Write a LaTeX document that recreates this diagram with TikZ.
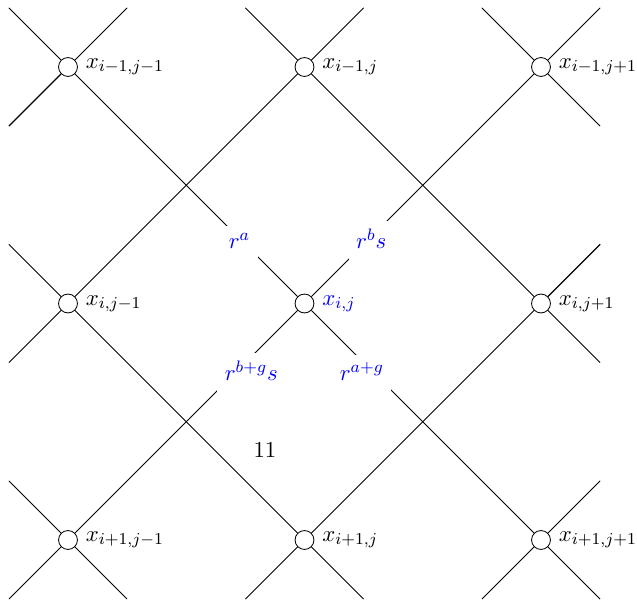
\documentclass[11pt,tikz,border=0pt]{standalone}
\usepackage{amsmath, amssymb}
\usepackage{tikz}
\usetikzlibrary{positioning, calc}

\begin{document}
\begin{tikzpicture}[
		site/.style={circle, draw=black, fill=white, minimum size=0.32cm, inner sep=0pt},
		lnk/.style={color=black},
		wgt/.style={fill=white, text=blue, inner sep=3.6pt, text depth=2pt, anchor=base},
		edgeb/.style={semithick}
		]
		\useasboundingbox (-1.15,1.133) rectangle (9.624,-9.015);
		
		% Sommets
		\node[site, label=right:{$x_{i-1,j-1}$}] (a1) at (0, 0)  {};
		\node[site, label=right:{$x_{i-1,j}$}]   (a2) at (4, 0)  {};
		\node[site, label=right:{$x_{i-1,j+1}$}] (a3) at (8, 0)  {};
		\node[site, label=right:{$x_{i,j-1}$}]   (b1) at (0, -4) {};
		\node[site, label=right:{\textcolor{blue}{$x_{i,j}$}}] (b2) at (4, -4) {};
		\node[site, label=right:{$x_{i,j+1}$}]   (b3) at (8, -4) {};
		\node[site, label=right:{$x_{i+1,j-1}$}] (c1) at (0, -8) {};
		\node[site, label=right:{$x_{i+1,j}$}]   (c2) at (4, -8) {};
		\node[site, label=right:{$x_{i+1,j+1}$}] (c3) at (8, -8) {};
		
		% Aretes
		\draw[lnk] (b2) -- (a1);
		\draw[lnk] (b2) -- (a3);
		\draw[lnk] (b2) -- (c1);
		\draw[lnk] (b2) -- (c3);
		\draw[lnk] (a2) -- (b1);
		\draw[lnk] (a2) -- (b3);
		\draw[lnk] (b1) -- (c2);
		\draw[lnk] (b3) -- (c2);
		
		% Poids autour de x_{i,j}
		\node[wgt] (wa)  at ($(b2)+(-1.10, 0.93)$)  {$r^{a}$};
		\node[wgt] (wbs) at ($(b2)+(1.13, 0.93)$)   {$r^{b}s$};
		\node[wgt] (wbg) at ($(b2)+(-0.90, -1.30)$) {$r^{b+g}s$};
		\node[wgt] (wag) at ($(b2)+(0.97, -1.30)$)  {$r^{a+g}$};
		
		% Prolongements
		\draw[lnk] (a1) -- ++(-1, 1);
		\draw[lnk] (a1) -- ++(1, 1);
		\draw[lnk, edgeb] (a1) -- ++(-1, -1);
		\draw[lnk] (a2) -- ++(-1, 1);
		\draw[lnk] (a2) -- ++(1, 1);
		\draw[lnk] (a3) -- ++(-1, 1);
		\draw[lnk] (a3) -- ++(1, 1);
		\draw[lnk] (a3) -- ++(1, -1);
		\draw[lnk] (b1) -- ++(-1, 1);
		\draw[lnk] (b1) -- ++(-1, -1);
		\draw[lnk, edgeb] (b3) -- ++(1, 1);
		\draw[lnk] (b3) -- ++(1, -1);
		\draw[lnk] (c1) -- ++(-1, 1);
		\draw[lnk] (c1) -- ++(-1, -1);
		\draw[lnk] (c1) -- ++(1, -1);
		\draw[lnk] (c2) -- ++(-1, -1);
		\draw[lnk] (c2) -- ++(1, -1);
		\draw[lnk] (c3) -- ++(-1, -1);
		\draw[lnk] (c3) -- ++(1, -1);
		\draw[lnk] (c3) -- ++(1, 1);
		
		\node (num) at (3.33, -6.48) {11};
	\end{tikzpicture}
\end{document}
